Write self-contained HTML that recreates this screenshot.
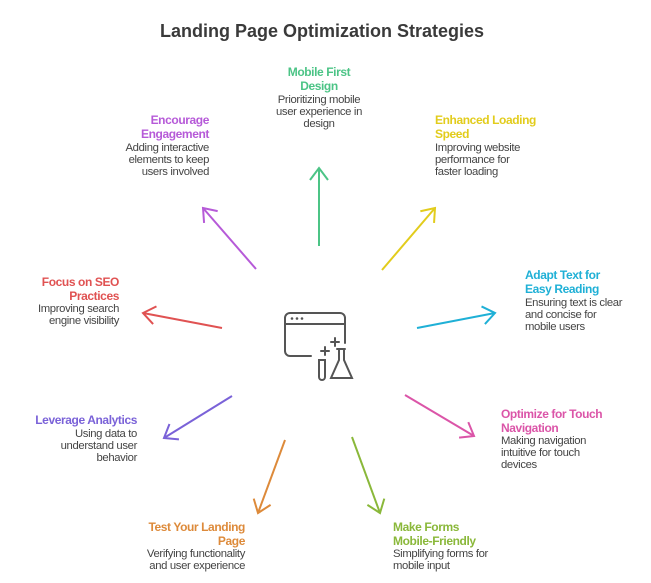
<!DOCTYPE html>
<html><head><meta charset="utf-8"><style>
body{margin:0;background:#fff;}
svg{display:block;font-family:"Liberation Sans",sans-serif;}
.t{font-weight:bold;font-size:12px;letter-spacing:-0.4px}
.d{font-size:11.3px;fill:#444;letter-spacing:-0.35px}
</style></head><body>
<svg width="651" height="583" viewBox="0 0 651 583">
<defs>
<marker id="mg" viewBox="-14 -11 16 22" refX="0" refY="0" markerWidth="16" markerHeight="22" markerUnits="userSpaceOnUse" orient="auto"><path d="M-12,-9 L0,0 L-12,9" fill="none" stroke="#4cc486" stroke-width="2"/></marker>
<marker id="my" viewBox="-14 -11 16 22" refX="0" refY="0" markerWidth="16" markerHeight="22" markerUnits="userSpaceOnUse" orient="auto"><path d="M-12,-9 L0,0 L-12,9" fill="none" stroke="#e2cc1c" stroke-width="2"/></marker>
<marker id="mc" viewBox="-14 -11 16 22" refX="0" refY="0" markerWidth="16" markerHeight="22" markerUnits="userSpaceOnUse" orient="auto"><path d="M-12,-9 L0,0 L-12,9" fill="none" stroke="#1fb0d6" stroke-width="2"/></marker>
<marker id="mp" viewBox="-14 -11 16 22" refX="0" refY="0" markerWidth="16" markerHeight="22" markerUnits="userSpaceOnUse" orient="auto"><path d="M-12,-9 L0,0 L-12,9" fill="none" stroke="#db55a8" stroke-width="2"/></marker>
<marker id="ml" viewBox="-14 -11 16 22" refX="0" refY="0" markerWidth="16" markerHeight="22" markerUnits="userSpaceOnUse" orient="auto"><path d="M-12,-9 L0,0 L-12,9" fill="none" stroke="#8ab83a" stroke-width="2"/></marker>
<marker id="mo" viewBox="-14 -11 16 22" refX="0" refY="0" markerWidth="16" markerHeight="22" markerUnits="userSpaceOnUse" orient="auto"><path d="M-12,-9 L0,0 L-12,9" fill="none" stroke="#dd8a3a" stroke-width="2"/></marker>
<marker id="mb" viewBox="-14 -11 16 22" refX="0" refY="0" markerWidth="16" markerHeight="22" markerUnits="userSpaceOnUse" orient="auto"><path d="M-12,-9 L0,0 L-12,9" fill="none" stroke="#7a62d8" stroke-width="2"/></marker>
<marker id="mr" viewBox="-14 -11 16 22" refX="0" refY="0" markerWidth="16" markerHeight="22" markerUnits="userSpaceOnUse" orient="auto"><path d="M-12,-9 L0,0 L-12,9" fill="none" stroke="#e05252" stroke-width="2"/></marker>
<marker id="mv" viewBox="-14 -11 16 22" refX="0" refY="0" markerWidth="16" markerHeight="22" markerUnits="userSpaceOnUse" orient="auto"><path d="M-12,-9 L0,0 L-12,9" fill="none" stroke="#b65ad8" stroke-width="2"/></marker>
</defs>
<text x="322" y="37" text-anchor="middle" font-size="18" font-weight="bold" fill="#3a3a3a">Landing Page Optimization Strategies</text>

<g stroke-width="2" fill="none">
<line x1="319" y1="246" x2="319" y2="168" stroke="#4cc486" marker-end="url(#mg)"/>
<line x1="382" y1="270" x2="435" y2="208" stroke="#e2cc1c" marker-end="url(#my)"/>
<line x1="417" y1="328" x2="495" y2="313" stroke="#1fb0d6" marker-end="url(#mc)"/>
<line x1="405" y1="395" x2="474" y2="436" stroke="#db55a8" marker-end="url(#mp)"/>
<line x1="352" y1="437" x2="380" y2="513" stroke="#8ab83a" marker-end="url(#ml)"/>
<line x1="285" y1="440" x2="258" y2="513" stroke="#dd8a3a" marker-end="url(#mo)"/>
<line x1="232" y1="396" x2="164" y2="438" stroke="#7a62d8" marker-end="url(#mb)"/>
<line x1="222" y1="328" x2="143" y2="313" stroke="#e05252" marker-end="url(#mr)"/>
<line x1="256" y1="269" x2="203" y2="208" stroke="#b65ad8" marker-end="url(#mv)"/>
</g>

<g stroke="#555" stroke-width="2" fill="none" stroke-linecap="round">
<path d="M311,356 H290 a5,5 0 0 1 -5,-5 V318 a5,5 0 0 1 5,-5 H340 a5,5 0 0 1 5,5 V343"/>
<line x1="285" y1="324" x2="345" y2="324"/>
<line x1="335" y1="338" x2="335" y2="346"/><line x1="331" y1="342" x2="339" y2="342"/>
<line x1="325" y1="347" x2="325" y2="355"/><line x1="321" y1="351" x2="329" y2="351"/>
<path d="M319,360 V377 a3,3 0 0 0 6,0 V360 Z"/>
<path d="M337,349 H345 M339,349 V360 L331,378 H352 L344,360 V349"/>
</g>
<g fill="#555"><circle cx="292" cy="318.5" r="1.3"/><circle cx="297" cy="318.5" r="1.3"/><circle cx="302" cy="318.5" r="1.3"/></g>

<g text-anchor="middle">
<text class="t" fill="#4cc486" x="319" y="76">Mobile First</text>
<text class="t" fill="#4cc486" x="319" y="90">Design</text>
<text class="d" x="319" y="103">Prioritizing mobile</text>
<text class="d" x="319" y="115">user experience in</text>
<text class="d" x="319" y="127">design</text>
</g>
<g text-anchor="end">
<text class="t" fill="#b65ad8" x="209" y="124">Encourage</text>
<text class="t" fill="#b65ad8" x="209" y="138">Engagement</text>
<text class="d" x="209" y="151">Adding interactive</text>
<text class="d" x="209" y="163">elements to keep</text>
<text class="d" x="209" y="175">users involved</text>

<text class="t" fill="#e05252" x="119" y="286">Focus on SEO</text>
<text class="t" fill="#e05252" x="119" y="300">Practices</text>
<text class="d" x="119" y="312">Improving search</text>
<text class="d" x="119" y="324">engine visibility</text>

<text class="t" fill="#7a62d8" x="137" y="424">Leverage Analytics</text>
<text class="d" x="137" y="437">Using data to</text>
<text class="d" x="137" y="449">understand user</text>
<text class="d" x="137" y="461">behavior</text>

<text class="t" fill="#dd8a3a" x="245" y="531">Test Your Landing</text>
<text class="t" fill="#dd8a3a" x="245" y="545">Page</text>
<text class="d" x="245" y="557">Verifying functionality</text>
<text class="d" x="245" y="569">and user experience</text>
</g>
<g>
<text class="t" fill="#e2cc1c" x="435" y="124">Enhanced Loading</text>
<text class="t" fill="#e2cc1c" x="435" y="138">Speed</text>
<text class="d" x="435" y="151">Improving website</text>
<text class="d" x="435" y="163">performance for</text>
<text class="d" x="435" y="175">faster loading</text>

<text class="t" fill="#1fb0d6" x="525" y="279">Adapt Text for</text>
<text class="t" fill="#1fb0d6" x="525" y="293">Easy Reading</text>
<text class="d" x="525" y="306">Ensuring text is clear</text>
<text class="d" x="525" y="318">and concise for</text>
<text class="d" x="525" y="330">mobile users</text>

<text class="t" fill="#db55a8" x="501" y="418">Optimize for Touch</text>
<text class="t" fill="#db55a8" x="501" y="432">Navigation</text>
<text class="d" x="501" y="444">Making navigation</text>
<text class="d" x="501" y="456">intuitive for touch</text>
<text class="d" x="501" y="468">devices</text>

<text class="t" fill="#8ab83a" x="393" y="531">Make Forms</text>
<text class="t" fill="#8ab83a" x="393" y="545">Mobile-Friendly</text>
<text class="d" x="393" y="557">Simplifying forms for</text>
<text class="d" x="393" y="569">mobile input</text>
</g>
</svg>
</body></html>
